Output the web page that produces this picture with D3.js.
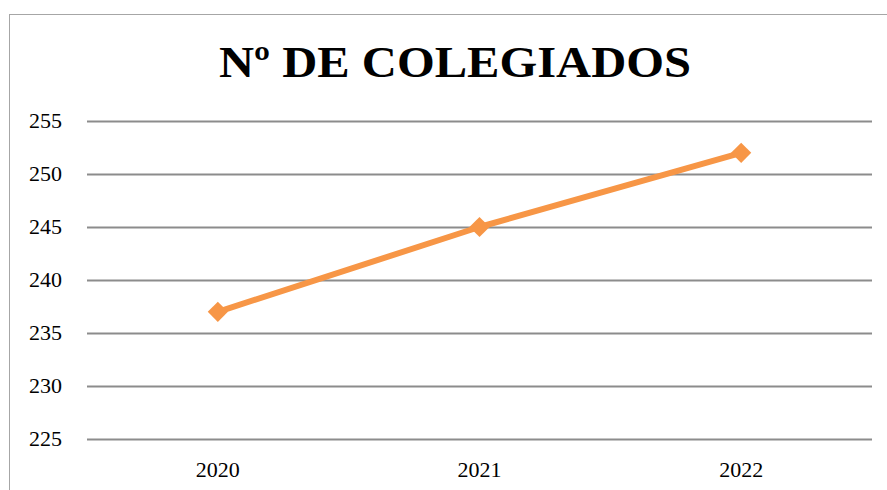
<!DOCTYPE html>
<html>
<head>
<meta charset="utf-8">
<script src="https://cdn.jsdelivr.net/npm/d3@7"></script>
<style>
    body { margin: 0; background: #fff; }
</style>
</head>
<body>
<div id="chart"></div>
<script>
const chartTitle = "Nº DE COLEGIADOS";
const years = ["2020", "2021", "2022"];
const colegiados = [237, 245, 252];
const yTicks = [225, 230, 235, 240, 245, 250, 255];

const serif = "'Liberation Serif', 'DejaVu Serif', serif";
const width = 887;
const height = 490;
const margin = { left: 87, right: 15, top: 121, bottom: 51 };

const svg = d3.select("#chart")
    .append("svg")
    .attr("width", width)
    .attr("height", height)
    .style("font-family", serif);

svg.append("rect")
    .attr("width", width)
    .attr("height", height)
    .attr("fill", "#fff");

// outer chart border (runs off the right/bottom edge)
svg.append("rect")
    .attr("x", 9.5)
    .attr("y", 14.5)
    .attr("width", 900)
    .attr("height", 500)
    .attr("fill", "none")
    .attr("stroke", "#a6a6a6")
    .attr("stroke-width", 1);

const x = d3.scaleBand()
    .domain(years)
    .range([margin.left, width - margin.right]);

const y = d3.scaleLinear()
    .domain([225, 255])
    .range([height - margin.bottom, margin.top]);

// grid
svg.append("g")
    .selectAll("line")
    .data(yTicks)
    .join("line")
    .attr("x1", margin.left)
    .attr("x2", width - margin.right)
    .attr("y1", function(d) { return Math.round(y(d)) + 0.5; })
    .attr("y2", function(d) { return Math.round(y(d)) + 0.5; })
    .attr("stroke", "#8c8c8c")
    .attr("stroke-width", 2);

svg.append("g")
    .selectAll("text")
    .data(yTicks)
    .join("text")
    .attr("x", 62)
    .attr("y", function(d) { return y(d); })
    .attr("dy", "0.33em")
    .attr("text-anchor", "end")
    .style("font-family", serif)
    .style("font-size", "22px")
    .attr("fill", "#000")
    .text(function(d) { return d; });

svg.append("g")
    .selectAll("text")
    .data(years)
    .join("text")
    .attr("x", function(d) { return x(d) + x.bandwidth() / 2; })
    .attr("y", 477)
    .attr("text-anchor", "middle")
    .style("font-family", serif)
    .style("font-size", "22px")
    .attr("fill", "#000")
    .text(function(d) { return d; });

const points = years.map(function(yr, i) {
    return { year: yr, value: colegiados[i] };
});

const line = d3.line()
    .x(function(d) { return x(d.year) + x.bandwidth() / 2; })
    .y(function(d) { return y(d.value); });

svg.append("path")
    .datum(points)
    .attr("d", line)
    .attr("fill", "none")
    .attr("stroke", "#f79646")
    .attr("stroke-width", 6)
    .attr("stroke-linejoin", "round");

svg.append("g")
    .selectAll("path")
    .data(points)
    .join("path")
    .attr("d", d3.symbol().type(d3.symbolDiamond2).size(260))
    .attr("transform", function(d) {
        return "translate(" + (x(d.year) + x.bandwidth() / 2) + "," + y(d.value) + ")";
    })
    .attr("fill", "#f79646");

svg.append("text")
    .attr("x", 455)
    .attr("y", 77)
    .attr("text-anchor", "middle")
    .style("font-family", serif)
    .style("font-size", "44px")
    .style("font-weight", "bold")
    .attr("fill", "#000")
    .attr("textLength", 472)
    .attr("lengthAdjust", "spacingAndGlyphs")
    .text(chartTitle);
</script>
</body>
</html>
